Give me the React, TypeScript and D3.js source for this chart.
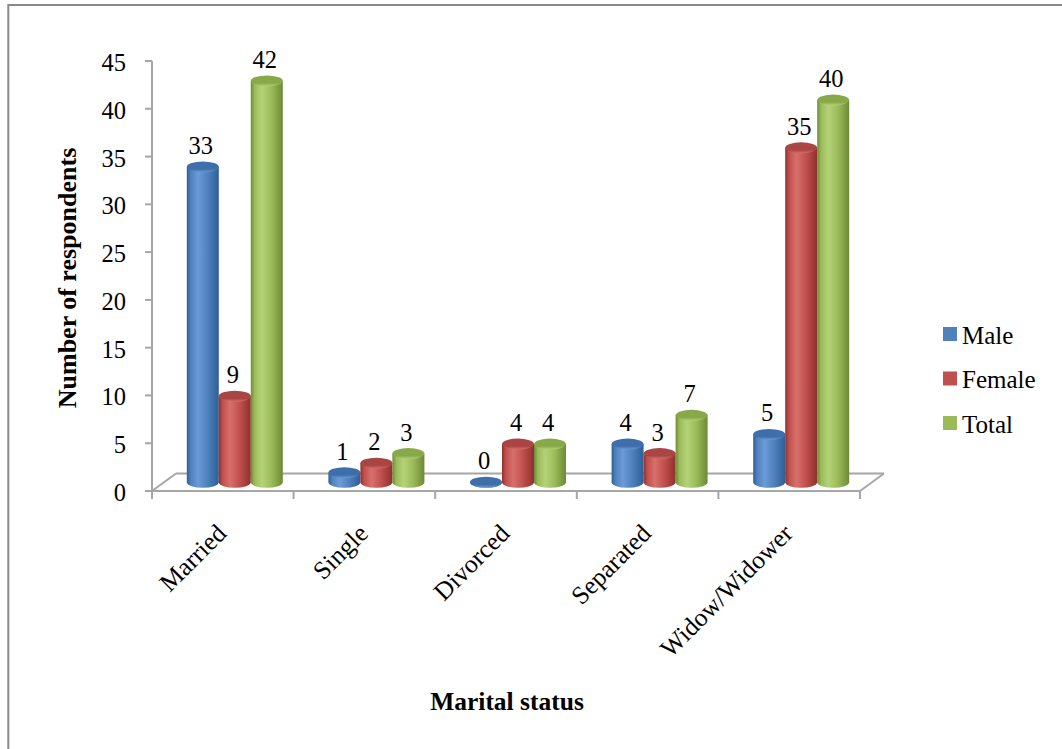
import React from "react";
import * as d3 from "d3";

const categories = ["Married", "Single", "Divorced", "Separated", "Widow/Widower"];
const seriesNames = ["Male", "Female", "Total"];
const maleValues = [33, 1, 0, 4, 5];
const femaleValues = [9, 2, 4, 3, 35];
const totalValues = [42, 3, 4, 7, 40];
const yTicks = [0, 5, 10, 15, 20, 25, 30, 35, 40, 45];

const W = 1062;
const H = 749;
const FONT = "'Liberation Serif', 'Times New Roman', serif";

const seriesColors = [
  { base: "#4F81BD", light: "#6B9BD8", dark: "#2F5E96", cap: "#3E6FAA" },
  { base: "#C0504D", light: "#D86F6B", dark: "#8F302D", cap: "#A94542" },
  { base: "#9BBB59", light: "#B4D378", dark: "#6C8A36", cap: "#88A94A" },
];

// plot geometry (front face of the 3-D floor) and the depth offset
const left = 152;
const right = 860;
const bottomY = 491;
const topY = 61;
const depthX = 24;
const depthY = -17.5;

export default function App() {
  const values = [maleValues, femaleValues, totalValues];

  const yFront = d3.scaleLinear().domain([0, 45]).range([bottomY, topY]);
  // bars stand in the middle of the floor depth
  const yBar = (v: number) => yFront(v) + depthY / 2;

  const x = d3.scaleBand<string>().domain(categories).range([left, right]).paddingInner(0);
  const bw = 32;
  const xs = d3
    .scaleBand<string>()
    .domain(seriesNames)
    .range([-bw * 1.5, bw * 1.5]);

  const rx = bw / 2;
  const ry = 5.5;
  const catBoundaries = d3.range(categories.length + 1).map((i) => left + i * x.bandwidth());

  return (
    <svg
      width={W}
      height={H}
      style={{ position: "absolute", left: 0, top: 0, background: "#fff" }}
      fontFamily={FONT}
    >
      <defs>
        {seriesColors.map((c, i) => (
          <React.Fragment key={i}>
            <linearGradient id={`body${i}`} x1="0" x2="1" y1="0" y2="0">
              <stop offset="0" stopColor={c.dark} />
              <stop offset="0.12" stopColor={c.base} />
              <stop offset="0.35" stopColor={c.light} />
              <stop offset="0.65" stopColor={c.base} />
              <stop offset="1" stopColor={c.dark} />
            </linearGradient>
            <linearGradient id={`cap${i}`} x1="0" x2="0" y1="0" y2="1">
              <stop offset="0" stopColor={c.cap} />
              <stop offset="0.7" stopColor={c.cap} />
              <stop offset="1" stopColor={c.light} />
            </linearGradient>
          </React.Fragment>
        ))}
      </defs>

      {/* outer frame */}
      <rect x={8.3} y={5} width={1200} height={900} fill="none" stroke="#8a8a8a" strokeWidth={2} />

      {/* floor */}
      <g stroke="#a6a6a6" strokeWidth={2} fill="none">
        <line x1={left + depthX} y1={bottomY + depthY} x2={right + depthX} y2={bottomY + depthY} />
        <line x1={left} y1={bottomY} x2={left + depthX} y2={bottomY + depthY} />
        <line x1={right} y1={bottomY} x2={right + depthX} y2={bottomY + depthY} />
        <line x1={left - 7} y1={bottomY} x2={right} y2={bottomY} />
        {/* value axis */}
        <line x1={left} y1={topY} x2={left} y2={bottomY + 8} />
        {yTicks.map((t) => (
          <line key={t} x1={left - 7} y1={yFront(t)} x2={left} y2={yFront(t)} />
        ))}
        {catBoundaries.map((bx, i) => (
          <line key={i} x1={bx} y1={bottomY} x2={bx} y2={bottomY + 8} />
        ))}
      </g>

      {/* y tick labels */}
      {yTicks.map((t) => (
        <text key={t} x={126} y={yFront(t) + 10} textAnchor="end" fontSize={24.5} fill="#000">
          {t}
        </text>
      ))}

      {/* cylinders */}
      {categories.map((cat, ci) => {
        const cx0 = (x(cat) as number) + x.bandwidth() / 2 + depthX / 2;
        return (
          <g key={cat}>
            {seriesNames.map((s, si) => {
              const v = values[si][ci];
              const cx = cx0 + (xs(s) as number) + bw / 2;
              const base = yBar(0);
              const top = yBar(v);
              const body = `M${cx - rx},${top} L${cx - rx},${base} A${rx},${ry} 0 0 0 ${cx + rx},${base} L${cx + rx},${top} Z`;
              return (
                <g key={s}>
                  <path d={body} fill={`url(#body${si})`} />
                  <ellipse cx={cx} cy={top} rx={rx} ry={ry} fill={`url(#cap${si})`} />
                </g>
              );
            })}
          </g>
        );
      })}

      {/* value labels */}
      {categories.map((cat, ci) => {
        const cx0 = (x(cat) as number) + x.bandwidth() / 2 + depthX / 2;
        return seriesNames.map((s, si) => {
          const v = values[si][ci];
          const cx = cx0 + (xs(s) as number) + bw / 2 - 2;
          return (
            <text key={`${cat}-${s}`} x={cx} y={yBar(v) - 13} textAnchor="middle" fontSize={24.5} fill="#000">
              {v}
            </text>
          );
        });
      })}

      {/* category labels */}
      {categories.map((cat) => {
        const ax = (x(cat) as number) + x.bandwidth() / 2 + 5;
        const ay = 535;
        return (
          <text
            key={cat}
            x={ax}
            y={ay}
            textAnchor="end"
            fontSize={25.5}
            fill="#000"
            transform={`rotate(-45 ${ax} ${ay})`}
          >
            {cat}
          </text>
        );
      })}

      {/* axis titles */}
      <text
        x={76}
        y={278}
        textAnchor="middle"
        fontSize={26}
        fontWeight="bold"
        fill="#000"
        transform="rotate(-90 76 278)"
      >
        Number of respondents
      </text>
      <text x={507} y={710} textAnchor="middle" fontSize={25.5} fontWeight="bold" fill="#000">
        Marital status
      </text>

      {/* legend */}
      {seriesNames.map((s, i) => (
        <g key={s} transform={`translate(943, ${327 + i * 44.5})`}>
          <rect x={0} y={0} width={14} height={14} fill={seriesColors[i].base} />
          <text x={19} y={16.5} fontSize={25} fill="#000">
            {s}
          </text>
        </g>
      ))}
    </svg>
  );
}
